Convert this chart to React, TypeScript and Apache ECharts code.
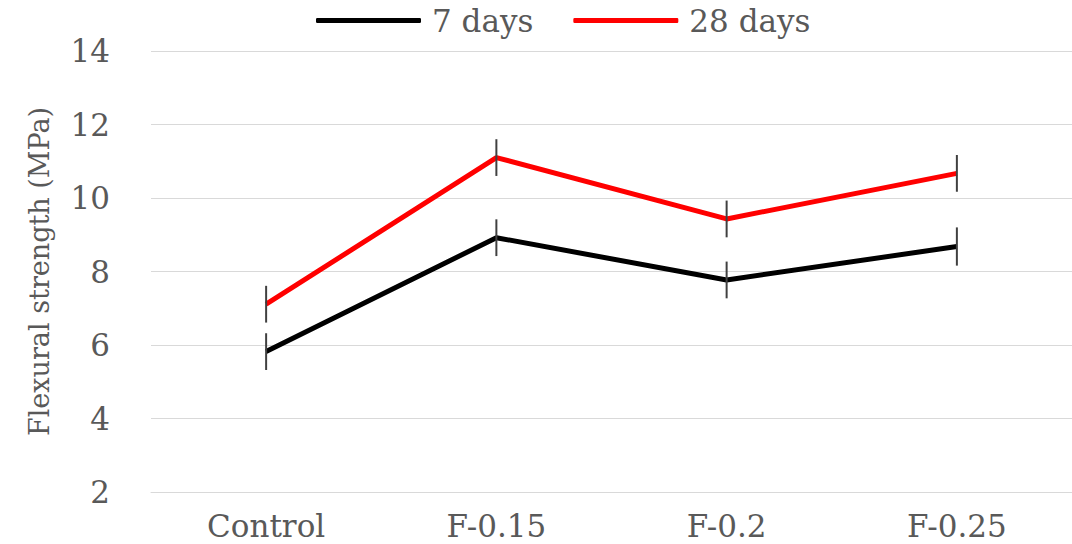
import React, { useEffect, useRef } from "react";
import * as echarts from "echarts";

const categories = ["Control", "F-0.15", "F-0.2", "F-0.25"];
const days7 = [5.82, 8.92, 7.77, 8.68];
const days28 = [7.11, 11.1, 9.43, 10.67];
const err7 = [0.5, 0.5, 0.5, 0.52];
const err28 = [0.5, 0.5, 0.5, 0.5];
const yTicks = { min: 2, max: 14, interval: 2 };
const seriesNames = ["7 days", "28 days"];

const FONT = "DejaVu Serif";
const TEXT = "#595959";

function errData(vals: number[], errs: number[]) {
  return vals.map((v, i) => [i, v - errs[i], v + errs[i]]);
}

const renderErr = (params: any, api: any) => {
  const x = api.value(0);
  const lo = api.coord([x, api.value(1)]);
  const hi = api.coord([x, api.value(2)]);
  return {
    type: "line",
    shape: { x1: lo[0], y1: lo[1], x2: hi[0], y2: hi[1] },
    style: { stroke: "#404040", lineWidth: 2 },
  };
};

export default function App() {
  const ref = useRef<HTMLDivElement>(null);
  useEffect(() => {
    if (!ref.current) return;
    const chart = echarts.init(ref.current, undefined, { renderer: "svg" });
    chart.setOption({
      animation: false,
      backgroundColor: "#ffffff",
      legend: {
        data: seriesNames,
        left: 316,
        top: 5,
        padding: 0,
        itemWidth: 105,
        itemHeight: 5,
        itemGap: 40,
        icon: "roundRect",
        textStyle: {
          fontFamily: FONT,
          fontSize: 31,
          color: TEXT,
          padding: [0, 0, 0, 6],
        },
      },
      grid: { left: 151, top: 51, width: 929, height: 441, containLabel: false },
      xAxis: {
        type: "category",
        data: categories,
        boundaryGap: true,
        axisLine: { show: true, lineStyle: { color: "#d9d9d9", width: 1 } },
        axisTick: { show: false },
        axisLabel: { fontFamily: FONT, fontSize: 31, color: TEXT, margin: 18 },
      },
      yAxis: {
        type: "value",
        min: yTicks.min,
        max: yTicks.max,
        interval: yTicks.interval,
        name: "Flexural strength (MPa)",
        nameLocation: "middle",
        nameGap: 98,
        nameTextStyle: { fontFamily: FONT, fontSize: 27, color: TEXT },
        axisLine: { show: false },
        axisTick: { show: false },
        axisLabel: { fontFamily: FONT, fontSize: 31, color: TEXT, margin: 41 },
        splitLine: { lineStyle: { color: "#d9d9d9", width: 1 } },
      },
      series: [
        {
          name: seriesNames[0],
          type: "line",
          data: days7,
          symbol: "none",
          lineStyle: { color: "#000000", width: 5 },
          itemStyle: { color: "#000000" },
          z: 2,
        },
        {
          name: seriesNames[1],
          type: "line",
          data: days28,
          symbol: "none",
          lineStyle: { color: "#ff0000", width: 5 },
          itemStyle: { color: "#ff0000" },
          z: 2,
        },
        {
          type: "custom",
          renderItem: renderErr,
          data: errData(days7, err7),
          z: 5,
          silent: true,
        },
        {
          type: "custom",
          renderItem: renderErr,
          data: errData(days28, err28),
          z: 5,
          silent: true,
        },
      ],
    });
    return () => chart.dispose();
  }, []);
  return (
    <div
      ref={ref}
      style={{ position: "absolute", left: 0, top: 0, width: 1072, height: 544 }}
    />
  );
}
